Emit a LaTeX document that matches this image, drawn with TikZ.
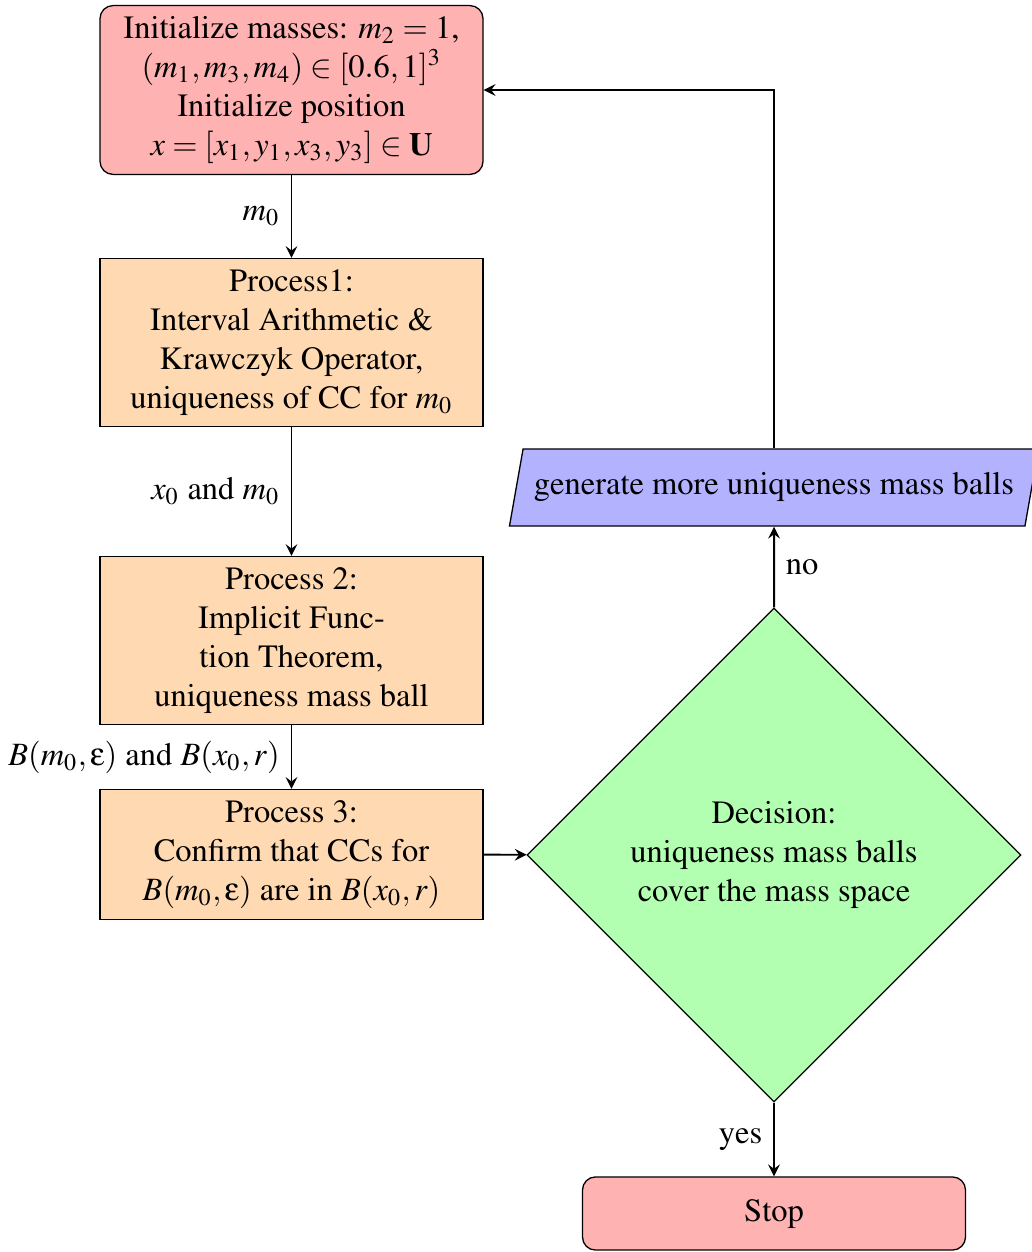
\documentclass[tikz,border=0pt]{standalone}
\usepackage[T1]{fontenc}
\usepackage{mathptmx}
\usepackage[Symbol]{upgreek}
\usetikzlibrary{shapes.geometric}
\begin{document}
\begin{tikzpicture}[x=0.3077pt, y=-0.3077pt, >=stealth,
    startstop/.style={draw, rounded corners, fill=red!30, minimum width=117.85pt, minimum height=22.5pt, align=center},
    process/.style={draw, fill=orange!30, minimum width=117.85pt, align=center},
    decision/.style={draw, diamond, aspect=1, fill=green!30, minimum width=152pt, minimum height=152pt, inner sep=0pt, align=center},
    io/.style={draw, trapezium, trapezium left angle=80, trapezium right angle=100, fill=blue!30, inner ysep=7.4pt},
    arrow/.style={semithick, ->}]
      \useasboundingbox (0,0) rectangle (1032,1252);

      \node[startstop] (init) at (291.5,90) {Initialize masses: $m_2=1$,\\ $(m_1,m_3,m_4)\in[0.6,1]^3$\\ Initialize position\\ $x=[x_1,y_1,x_3,y_3]\in\mathbf{U}$};
      \node[process] (pro1) at (291.5,342.5) {Process1:\\ Interval Arithmetic \&\\ Krawczyk Operator,\\ uniqueness of CC for $m_0$};
      \node[process] (pro2) at (291.5,640.5) {Process 2:\\ Implicit Func-\\tion Theorem,\\ uniqueness mass ball};
      \node[process] (pro3) at (291.5,854.5) {Process 3:\\ Confirm that CCs for\\ $B(m_0,\upepsilon)$ are in $B(x_0,r)$};
      \node[decision] (dec) at (774,855) {Decision:\\ uniqueness mass balls\\ cover the mass space};
      \node[io] (gen) at (774,487.5) {generate more uniqueness mass balls};
      \node[startstop] (stop) at (774,1213.5) {Stop};

      \draw[arrow] (init) -- node[midway, left]{$m_0$} (pro1);
      \draw[arrow] (pro1) -- node[midway, left]{$x_0$ and $m_0$} (pro2);
      \draw[arrow] (pro2) -- node[midway, left]{$B(m_0,\upepsilon)$ and $B(x_0,r)$} (pro3);
      \draw[arrow] (pro3) -- (dec);
      \draw[arrow] (dec) -- node[midway, right]{no} (gen);
      \draw[arrow] (gen.north) |- (init.east);
      \draw[arrow] (dec) -- node[midway, left]{yes} (stop);
    \end{tikzpicture}
\end{document}
